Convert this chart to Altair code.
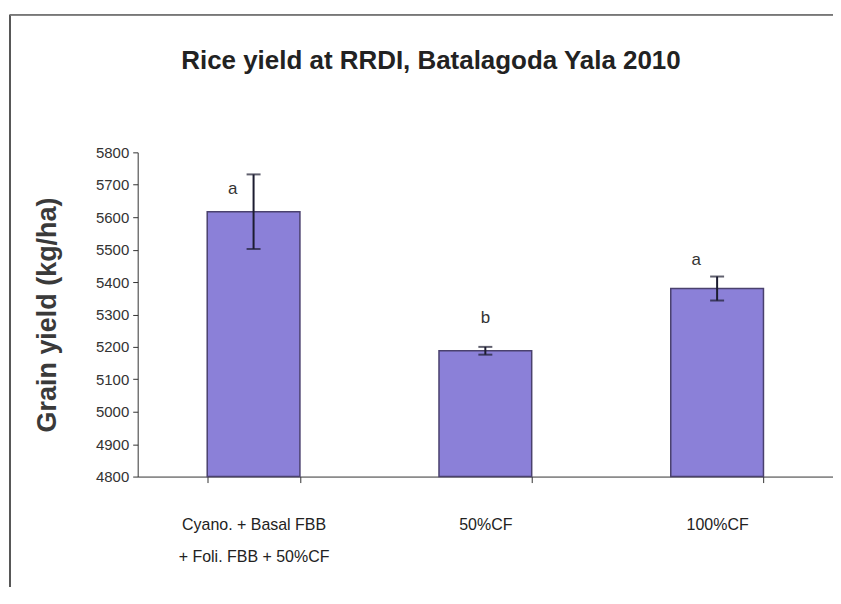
import altair as alt
import pandas as pd

categories = ["Cyano. + Basal FBB + Foli. FBB + 50%CF", "50%CF", "100%CF"]
yield_mean = [5617, 5188, 5380]
yield_se = [115, 12, 37]
letters = ["a", "b", "a"]
letter_pos = [5688, 5289, 5468]
y_ticks = [4800, 4900, 5000, 5100, 5200, 5300, 5400, 5500, 5600, 5700, 5800]
chart_title = "Rice yield at RRDI, Batalagoda Yala 2010"

df = pd.DataFrame({
    "cat": categories,
    "mean": yield_mean,
    "se": yield_se,
    "letter": letters,
    "lpos": letter_pos,
})
df["lo"] = df["mean"] - df["se"]
df["hi"] = df["mean"] + df["se"]

FONT = "Liberation Sans"
AX = "#333333"

xenc = alt.X(
    "cat:N",
    sort=categories,
    title=None,
    scale=alt.Scale(paddingInner=0.6, paddingOuter=0.3),
    axis=alt.Axis(
        labelAngle=0,
        labelExpr="datum.label == 'Cyano. + Basal FBB + Foli. FBB + 50%CF' ? ['Cyano. + Basal FBB', '+ Foli. FBB + 50%CF'] : datum.label",
        labelFont=FONT,
        labelFontSize=16,
        labelColor="#222222",
        labelLineHeight=32,
        labelPadding=34,
        tickBand="extent",
        tickSize=6,
        tickColor=AX,
        domainColor=AX,
        grid=False,
    ),
)
yscale = alt.Scale(domain=[4800, 5800], nice=False, zero=False)
yaxis = alt.Axis(
    values=y_ticks,
    format="d",
    labelOverlap=False,
    labelFont=FONT,
    labelFontSize=15,
    labelColor="#333333",
    labelPadding=4,
    tickSize=5,
    tickColor=AX,
    domainColor=AX,
    grid=False,
    titleFont=FONT,
    titleFontSize=27,
    titleFontWeight="bold",
    titleColor="#3a3a3a",
    titlePadding=34,
)
YT = "Grain yield (kg/ha)"

base = alt.Chart(df)

bars = base.mark_bar(color="#8b80d8", stroke="#4a416e", strokeWidth=1.5).encode(
    x=xenc,
    y=alt.Y("mean:Q", scale=yscale, title=YT, axis=yaxis),
    y2=alt.datum(4800),
)

err = base.mark_rule(color="#1c1c30", strokeWidth=2).encode(
    x=alt.X("cat:N", sort=categories),
    y=alt.Y("lo:Q", scale=yscale, title=YT, axis=yaxis),
    y2="hi:Q",
)
cap_lo = base.mark_tick(color="#1c1c30", size=14, thickness=2).encode(
    x=alt.X("cat:N", sort=categories),
    y=alt.Y("lo:Q", scale=yscale, title=YT, axis=yaxis),
)
cap_hi = base.mark_tick(color="#1c1c30", size=14, thickness=2).encode(
    x=alt.X("cat:N", sort=categories),
    y=alt.Y("hi:Q", scale=yscale, title=YT, axis=yaxis),
)
lab_a = base.transform_filter(alt.datum.letter == "a").mark_text(
    font=FONT, fontSize=17, color="#333333", dx=-21, baseline="middle"
).encode(
    x=alt.X("cat:N", sort=categories),
    y=alt.Y("lpos:Q", scale=yscale, title=YT, axis=yaxis),
    text="letter:N",
)
lab_b = base.transform_filter(alt.datum.letter == "b").mark_text(
    font=FONT, fontSize=17, color="#333333", baseline="middle"
).encode(
    x=alt.X("cat:N", sort=categories),
    y=alt.Y("lpos:Q", scale=yscale, title=YT, axis=yaxis),
    text="letter:N",
)

frame_left = alt.Chart(df).mark_rule(color="#555555", strokeWidth=1.5).encode(
    x=alt.value(-128), y=alt.value(-138), y2=alt.value(460)
)
frame_top = alt.Chart(df).mark_rule(color="#777777", strokeWidth=1.5).encode(
    x=alt.value(-128), x2=alt.value(720), y=alt.value(-138)
)
title_mark = alt.Chart(pd.DataFrame({"t": [chart_title]})).mark_text(
    font=FONT, fontSize=26, fontWeight="bold", color="#222222",
    align="center", baseline="middle"
).encode(x=alt.value(294), y=alt.value(-92), text="t:N")

chart = alt.layer(
    frame_left, frame_top, bars, err, cap_lo, cap_hi, lab_a, lab_b, title_mark
).properties(
    width=697,
    height=325,
    background="white",
    autosize=alt.AutoSizeParams(type="none"),
    padding={"left": 130, "top": 144, "right": 0, "bottom": 110},
).configure_view(stroke=None)

chart.save("out.html", embed_options={"renderer": "svg", "actions": False})
